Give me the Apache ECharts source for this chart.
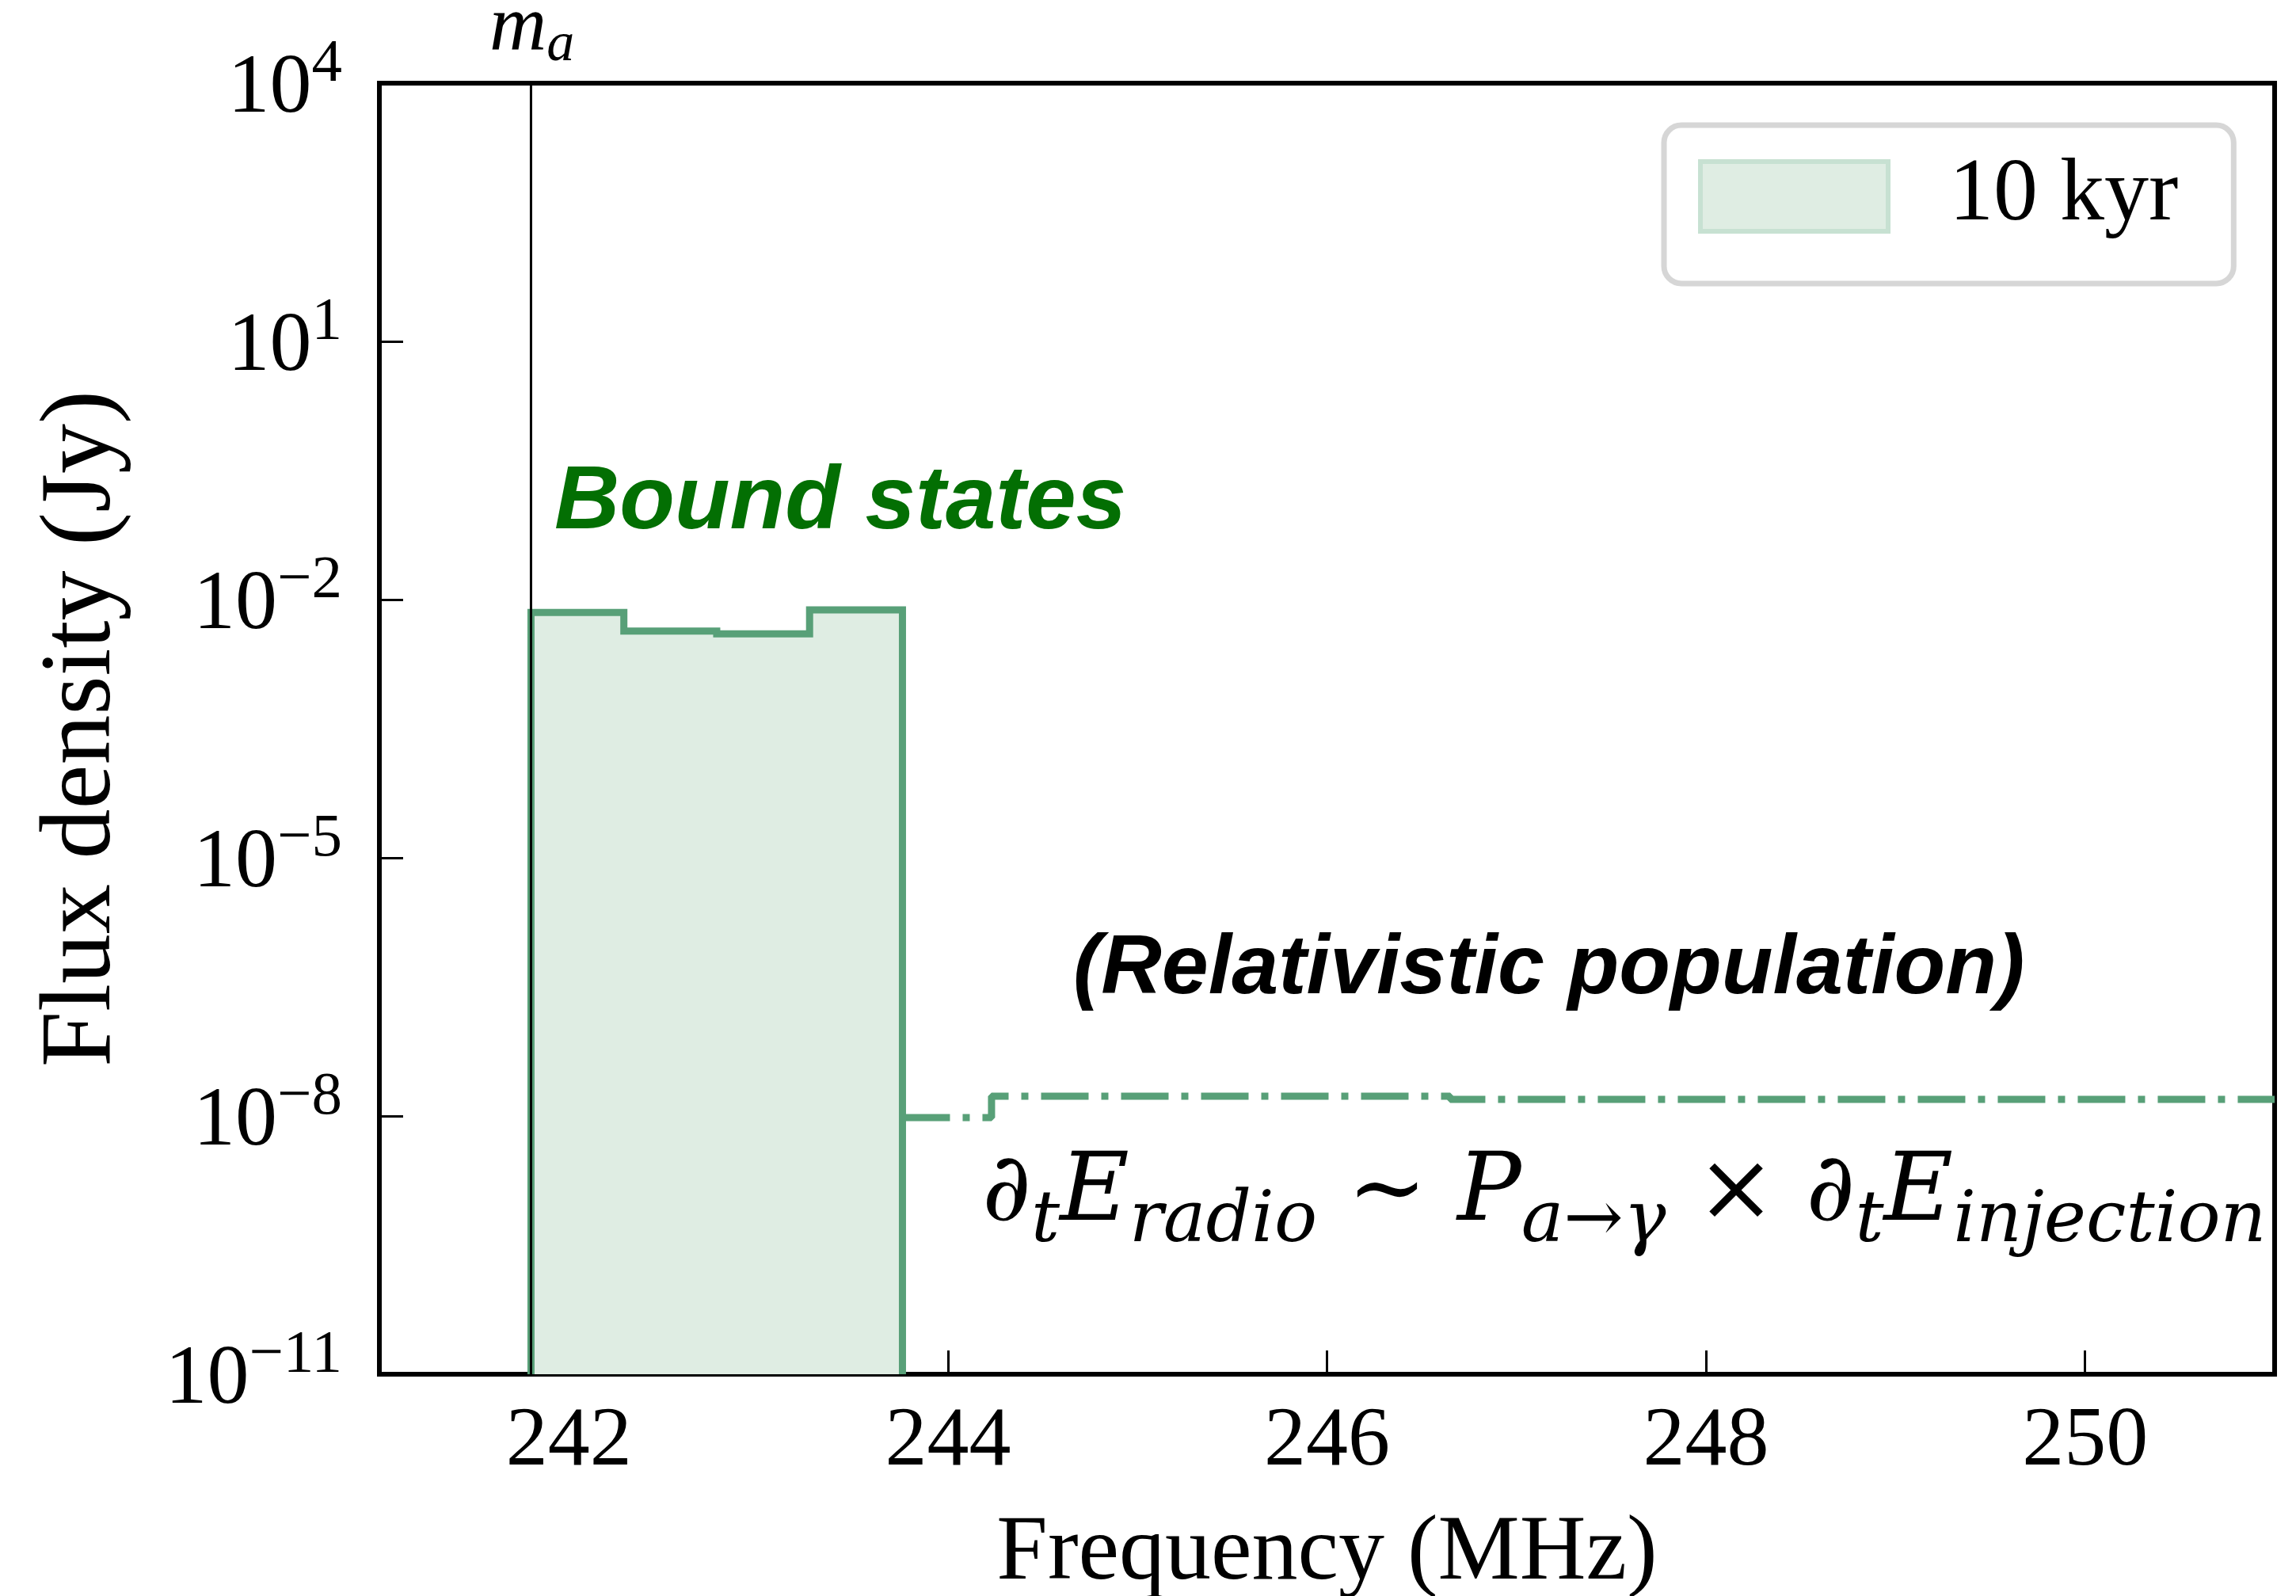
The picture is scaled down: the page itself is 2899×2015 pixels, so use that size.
<!DOCTYPE html>
<html>
<head>
<meta charset="utf-8">
<script src="https://cdn.jsdelivr.net/npm/echarts@6/dist/echarts.min.js"></script>
<style>
  html, body { margin: 0; padding: 0; background: #ffffff; }
  #chart { width: 2899px; height: 2015px; }
</style>
</head>
<body>
<div id="chart"></div>
<script>
// Axion mass line (MHz)
const axionMass = 241.8;

// Bound-state spectrum: bin edges (MHz) and flux per bin (Jy)
const boundEdges = [241.8, 242.29, 242.78, 243.27, 243.76];
const boundFlux = [7.1e-3, 4.3e-3, 4.0e-3, 7.6e-3];

// Relativistic population: bin edges (MHz) and flux per bin (Jy)
const relEdges = [243.76, 244.23, 246.65, 251.0];
const relFlux = [9.6e-9, 1.70e-8, 1.56e-8];

// Axis ranges and tick values
const xRange = [241, 251];
const yRange = [1e-11, 1e4];
const xTicks = [242, 244, 246, 248, 250];
const yTicks = [1e-11, 1e-8, 1e-5, 1e-2, 1e1, 1e4];

const legendLabel = '10 kyr';

// Step outline for a histogram: close down to the axis floor on both sides
function histSteps(edges, vals, floor) {
  const pts = [];
  if (floor != null) pts.push([edges[0], floor]);
  for (let i = 0; i < vals.length; i++) pts.push([edges[i], vals[i]]);
  pts.push([edges[edges.length - 1], vals[vals.length - 1]]);
  if (floor != null) pts.push([edges[edges.length - 1], floor]);
  return pts;
}

const serif = 'Liberation Serif';
const green = '#58a078';
const fill = '#dfede3';

const chart = echarts.init(document.getElementById('chart'), null, { renderer: 'canvas' });

const supFmt = v => {
  const e = Math.round(Math.log10(v));
  return '{b|10}{s|' + (e < 0 ? '\u2212' + (-e) : String(e)) + '}';
};

chart.setOption({
  animation: false,
  backgroundColor: '#ffffff',
  grid: {
    left: 479, right: 27, top: 105, bottom: 280,
    outerBoundsMode: 'none', containLabel: false,
    show: true, borderColor: '#000000', borderWidth: 6, backgroundColor: 'transparent'
  },
  legend: {
    data: [{
      name: legendLabel,
      icon: 'rect',
      itemStyle: { color: fill, borderColor: '#c7e1d2', borderWidth: 6 }
    }],
    left: 2101, top: 158,
    orient: 'vertical',
    itemWidth: 237, itemHeight: 88,
    padding: [34, 70, 54, 43],
    backgroundColor: '#ffffff',
    borderColor: '#d6d6d6', borderWidth: 7, borderRadius: 22,
    textStyle: { fontFamily: serif, fontSize: 112, color: '#000000', padding: [0, 0, 0, 72] }
  },
  xAxis: {
    type: 'value',
    min: xRange[0], max: xRange[1],
    name: 'Frequency (MHz)',
    nameLocation: 'middle', nameGap: 170,
    nameTextStyle: { fontFamily: serif, fontSize: 116, color: '#000000' },
    axisLine: { show: false },
    splitLine: { show: false },
    axisTick: { show: true, inside: true, length: 30, customValues: xTicks,
      lineStyle: { color: '#000000', width: 3 } },
    axisLabel: { customValues: xTicks, margin: 33, fontFamily: serif, fontSize: 106, color: '#000000' }
  },
  yAxis: {
    type: 'log', logBase: 10,
    min: yRange[0], max: yRange[1],
    name: 'Flux density (Jy)',
    nameLocation: 'middle', nameGap: 311,
    nameTextStyle: { fontFamily: serif, fontSize: 126, color: '#000000' },
    axisLine: { show: false },
    splitLine: { show: false },
    minorTick: { show: false },
    axisTick: { show: true, inside: true, length: 30, customValues: yTicks,
      lineStyle: { color: '#000000', width: 3 } },
    axisLabel: {
      customValues: yTicks, margin: 47, formatter: supFmt,
      rich: {
        b: { fontFamily: serif, fontSize: 106, color: '#000000', padding: [17, 0, 0, 0], verticalAlign: 'top' },
        s: { fontFamily: serif, fontSize: 77, color: '#000000', verticalAlign: 'top' }
      }
    }
  },
  series: [
    {
      name: legendLabel,
      type: 'line',
      step: 'end',
      data: histSteps(boundEdges, boundFlux, yRange[0]),
      showSymbol: false, symbol: 'none',
      lineStyle: { color: green, width: 9, join: 'miter', cap: 'butt' },
      itemStyle: { color: green },
      areaStyle: { color: fill, opacity: 1, origin: 'start' },
      z: 2
    },
    {
      name: 'relativistic',
      type: 'line',
      step: 'end',
      data: histSteps(relEdges, relFlux, null),
      showSymbol: false, symbol: 'none',
      lineStyle: { color: green, width: 9, type: [60, 16, 9, 16], cap: 'butt' },
      itemStyle: { color: green },
      z: 3
    },
    {
      name: 'axion mass',
      type: 'line',
      data: [[axionMass, yRange[0]], [axionMass, yRange[1]]],
      showSymbol: false, symbol: 'none',
      lineStyle: { color: '#000000', width: 3 },
      z: 4
    }
  ],
  graphic: [
    {
      type: 'text', x: 618, y: -14, z: 10,
      style: {
        text: '{m|m}{a|a}',
        verticalAlign: 'top', align: 'left',
        rich: {
          m: { fontFamily: serif, fontStyle: 'italic', fontSize: 100, fill: '#000000', verticalAlign: 'top' },
          a: { fontFamily: serif, fontStyle: 'italic', fontSize: 70, fill: '#000000', verticalAlign: 'top', padding: [37, 0, 0, 0] }
        }
      }
    },
    {
      type: 'text', x: 700, y: 636, z: 10,
      style: {
        text: 'Bound states',
        font: 'italic bold 114px "Liberation Sans"',
        fill: '#036f03', align: 'left', verticalAlign: 'middle'
      }
    },
    {
      type: 'text', x: 1355, y: 1225, z: 10,
      style: {
        text: '(Relativistic population)',
        font: 'italic bold 106px "Liberation Sans"',
        fill: '#000000', align: 'left', verticalAlign: 'middle'
      }
    },
    {
      type: 'text', x: 1240, y: 1449, z: 10,
      style: {
        text: '{m|\u2202}{s|t}{m|E}{s|radio}{m| \u223c P}{s|a\u2192\u03b3}{m| \u00d7 \u2202}{s|t}{m|E}{s|injection}',
        verticalAlign: 'top', align: 'left',
        rich: {
          m: { fontFamily: 'DejaVu Serif', fontStyle: 'italic', fontSize: 120, fill: '#000000', verticalAlign: 'top' },
          s: { fontFamily: 'DejaVu Serif', fontStyle: 'italic', fontSize: 90, fill: '#000000', verticalAlign: 'top', padding: [50, 0, 0, 0] }
        }
      }
    }
  ]
});
</script>
</body>
</html>
